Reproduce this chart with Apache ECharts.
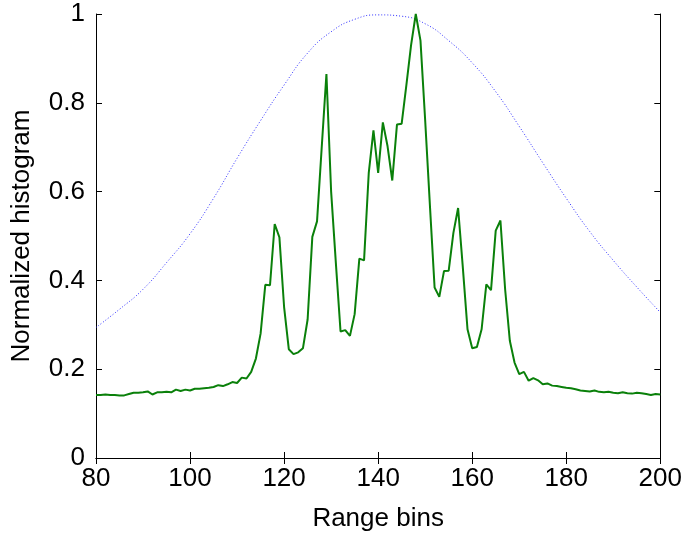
<!DOCTYPE html>
<html>
<head>
<meta charset="utf-8">
<script src="https://cdn.jsdelivr.net/npm/echarts@6/dist/echarts.min.js"></script>
<style>
  html, body { margin: 0; padding: 0; background: #fff; }
  #main { width: 685px; height: 537px; }
</style>
</head>
<body>
<div id="main"></div>
<script>
// range bins 80..200, one histogram value per bin
const binStart = 80
const histValues = [
    0.142, 0.142, 0.143, 0.142, 0.142, 0.141, 0.141, 0.144, 0.147, 0.147,
    0.148, 0.150, 0.143, 0.148, 0.148, 0.149, 0.148, 0.154, 0.151, 0.154,
    0.152, 0.156, 0.156, 0.157, 0.158, 0.160, 0.164, 0.162, 0.166, 0.171,
    0.169, 0.181, 0.179, 0.194, 0.224, 0.280, 0.390, 0.389, 0.527, 0.497,
    0.340, 0.245, 0.234, 0.238, 0.247, 0.312, 0.498, 0.533, 0.700, 0.865,
    0.600, 0.440, 0.285, 0.288, 0.275, 0.324, 0.449, 0.445, 0.642, 0.738,
    0.642, 0.756, 0.702, 0.625, 0.751, 0.753, 0.840, 0.930, 1.000, 0.940,
    0.760, 0.570, 0.384, 0.363, 0.421, 0.422, 0.507, 0.563, 0.430, 0.290,
    0.247, 0.250, 0.290, 0.391, 0.378, 0.512, 0.535, 0.380, 0.264, 0.215,
    0.189, 0.194, 0.174, 0.180, 0.175, 0.166, 0.168, 0.163, 0.162, 0.160,
    0.158, 0.157, 0.155, 0.152, 0.151, 0.150, 0.152, 0.149, 0.148, 0.149,
    0.147, 0.146, 0.148, 0.146, 0.145, 0.147, 0.146, 0.144, 0.142, 0.144,
    0.143,
]

// dotted window curve, read every 5 bins
const windowBins = [80, 85, 90, 95, 100, 105, 110, 115, 120, 125, 130, 135, 140,
    145, 150, 155, 160, 165, 170, 175, 180, 185, 190, 195, 200]
const windowValues = [0.294, 0.335, 0.380, 0.440, 0.505, 0.585, 0.675, 0.760, 0.840,
    0.912, 0.960, 0.988, 0.998, 0.995, 0.978, 0.940, 0.890, 0.825, 0.747, 0.665,
    0.585, 0.510, 0.445, 0.385, 0.328]

const xTicks = [80, 100, 120, 140, 160, 180, 200]
const yTicks = [0, 0.2, 0.4, 0.6, 0.8, 1]

const histData = histValues.map((v, i) => [binStart + i, v])
const windowData = windowBins.map((b, i) => [b, windowValues[i]])

const font = 'Liberation Sans, Arial, sans-serif'
const tickLabel = { color: '#000', fontSize: 26, fontFamily: font }
const nameStyle = { color: '#000', fontSize: 26, fontFamily: font }
const black = { lineStyle: { color: '#000', width: 1 } }

const myChart = echarts.init(document.getElementById('main'))

const option = {
    animation: false,
    grid: { left: 96, right: 24, top: 14, bottom: 78 },
    xAxis: [{
        type: 'value',
        min: xTicks[0],
        max: xTicks[xTicks.length - 1],
        interval: 20,
        name: 'Range bins',
        nameLocation: 'middle',
        nameGap: 48,
        nameTextStyle: nameStyle,
        axisLine: { show: true, ...black },
        axisTick: { show: true, inside: true, length: 6, ...black },
        axisLabel: { ...tickLabel, margin: 8 },
        splitLine: { show: false },
    }, {
        type: 'value',
        position: 'top',
        min: xTicks[0],
        max: xTicks[xTicks.length - 1],
        interval: 20,
        axisLine: { show: true, ...black },
        axisTick: { show: true, inside: true, length: 6, ...black },
        axisLabel: { show: false },
        splitLine: { show: false },
    }],
    yAxis: [{
        type: 'value',
        min: yTicks[0],
        max: yTicks[yTicks.length - 1],
        interval: 0.2,
        name: 'Normalized histogram',
        nameLocation: 'middle',
        nameGap: 61,
        nameTextStyle: nameStyle,
        axisLine: { show: true, ...black },
        axisTick: { show: true, inside: true, length: 6, ...black },
        axisLabel: { ...tickLabel, margin: 11 },
        splitLine: { show: false },
    }, {
        type: 'value',
        position: 'right',
        min: yTicks[0],
        max: yTicks[yTicks.length - 1],
        interval: 0.2,
        axisLine: { show: true, ...black },
        axisTick: { show: true, inside: true, length: 6, ...black },
        axisLabel: { show: false },
        splitLine: { show: false },
    }],
    series: [{
        type: 'line',
        data: windowData,
        smooth: true,
        showSymbol: false,
        lineStyle: { color: '#3030ff', width: 1, type: [1, 2] },
    }, {
        type: 'line',
        data: histData,
        showSymbol: false,
        lineStyle: { color: '#0a800a', width: 2 },
    }],
}

myChart.setOption(option)
</script>
</body>
</html>
